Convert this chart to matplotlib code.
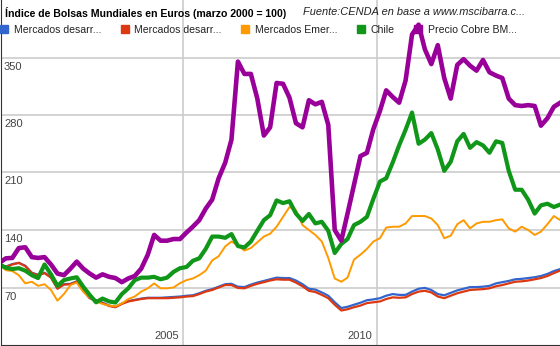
import matplotlib
matplotlib.use('Agg')
import matplotlib.pyplot as plt
import matplotlib.transforms as mtransforms
from matplotlib.lines import Line2D
import pandas as pd

plt.rcParams['font.family'] = ['Liberation Sans', 'DejaVu Sans']

# bimonthly samples (marzo 2000 = 100)
fechas = pd.date_range('2000-04-01', periods=88, freq='2MS')

desarrollados_1 = [
    98, 95.5, 98.5, 100, 96.5, 88, 85.5, 88, 82.5, 69,
    74, 74.5, 77.5, 66.5, 57.5, 54.5, 51.5, 48, 46.5, 50.5,
    53.5, 55, 56.5, 57.5, 57.5, 57.5, 58, 58.5, 59, 60,
    60.5, 63, 66, 68, 71, 74, 74.5, 71, 70.5, 73.5,
    76, 78, 80, 82, 81.5, 81.5, 78.5, 74, 68.5, 67.5,
    64, 60, 52, 45, 46.5, 49, 51.5, 54.5, 55.5, 57,
    60, 62, 61, 61, 65, 68.5, 69.5, 67, 62, 60.5,
    63.5, 66.5, 68.5, 70.5, 70.5, 71, 72, 75, 76.5, 78,
    80, 80.5, 81.5, 82.5, 84, 86.5, 90, 92.4]

desarrollados_2 = [
    98, 95, 98, 100, 96, 87.5, 85, 87.5, 82, 68.5,
    73.5, 74, 77, 66, 57, 54, 51, 47.5, 46, 50,
    53, 54.5, 56, 57, 57, 57, 57, 57.5, 58, 59,
    59.5, 62, 65, 67, 70, 73, 73, 69.5, 69, 72,
    74.5, 76.5, 78.5, 80, 79.5, 79.5, 76, 71.5, 66, 64.5,
    61, 57, 49, 42, 43.5, 46, 48, 51, 52, 53,
    56, 58, 57.5, 58, 62, 65, 66, 64, 59, 57,
    60, 63, 65, 67, 67.5, 68, 69, 71.5, 73, 75,
    77, 77.5, 78.5, 80, 81.5, 84, 87.5, 90.7]

emergentes = [
    97.6, 91, 90, 85, 75, 77, 72, 74, 67, 54,
    62, 73, 76, 65, 58, 53, 50, 48, 47, 50.5,
    56, 59, 65, 69, 75, 69, 69, 70, 75.3, 79,
    81, 85, 90.5, 103, 108, 120, 126, 121, 115, 118,
    125, 132, 135.5, 144, 156, 168, 164, 146, 140, 134,
    126, 106, 81, 77, 82, 104, 110, 117, 126, 130,
    143, 144, 144, 148, 157, 157, 157, 154, 146, 130,
    133, 147, 152, 142, 148, 150, 150, 152, 153, 142,
    138, 144, 140, 134, 138, 147, 157, 152]

chile = [
    98, 94, 92.5, 93.5, 90.5, 85, 81.5, 98, 86, 72,
    79, 81, 82.5, 71, 61, 52, 56.5, 53, 51.7, 62,
    69, 79, 82, 82, 83, 80, 82, 89, 93.5, 95,
    102.5, 105.5, 117, 132, 132, 130.5, 135, 120.5, 118.7, 126,
    139, 152, 158, 176, 172.8, 175, 160, 151, 159.5, 148,
    150, 139, 112, 123, 129, 146, 150, 156, 178, 199,
    203, 222, 243, 262, 283, 245, 250, 258, 238, 212,
    223, 248, 257, 240, 247, 243, 234, 248, 246, 212,
    189, 189, 177, 160, 170, 172, 168, 171]

cobre = [
    100, 105.5, 106, 118, 119, 107, 106, 107, 98, 87,
    85, 93, 101.5, 93, 87, 82, 86, 83, 81.5, 76.5,
    81, 84, 93, 110, 134, 127, 127, 129, 129, 137,
    144, 152, 166, 177, 203, 222, 250, 345, 330, 330,
    300, 255, 265, 319, 318, 301, 270, 265, 298, 293,
    296, 268, 140, 127, 160, 195, 230, 234, 263, 285,
    310, 302, 295, 322, 378, 390, 360, 342, 365, 325,
    300, 341, 348, 340, 334, 347, 332, 328, 325, 300,
    292, 291, 292, 291, 267, 276, 290, 295]

etiquetas = ['Mercados desarr...', 'Mercados desarr...', 'Mercados Emer...',
             'Chile', 'Precio Cobre BM...']
colores = ['#3366CC', '#DC3912', '#FF9900', '#109618', '#990099']
grosores = [1.6, 1.6, 1.4, 3.0, 3.3]
y_ticks = [70, 140, 210, 280, 350]
x_ticks = [pd.Timestamp('2005-01-01'), pd.Timestamp('2010-01-01')]

fig = plt.figure(figsize=(5.6, 3.46), dpi=100)
ax = fig.add_axes([1 / 560, 1 / 346, 559 / 560, 345 / 346])

series = [desarrollados_1, desarrollados_2, emergentes, chile, cobre]
for valores, c, lw in zip(series, colores, grosores):
    ax.plot(fechas, valores, color=c, lw=lw, solid_joinstyle='round')

ax.set_xlim(pd.Timestamp('2000-04-16'), pd.Timestamp('2014-09-28'))
ax.set_ylim(0, 420)

# grid
ax.set_yticks(y_ticks)
ax.set_xticks(x_ticks)
ax.grid(True, color='#cccccc', lw=1.2)
ax.set_axisbelow(True)
ax.tick_params(length=0, labelleft=False, labelbottom=False)
for s in ['top', 'right']:
    ax.spines[s].set_visible(False)
ax.spines['left'].set_color('#333333')
ax.spines['bottom'].set_color('#333333')

# labels drawn inside the plot like the original
tr_y = mtransforms.offset_copy(ax.get_yaxis_transform(), fig=fig, x=3, y=-4, units='dots')
for v in y_ticks:
    ax.text(0, v, str(v), transform=tr_y, ha='left', va='top', fontsize=8, color='#444444')
tr_x = mtransforms.offset_copy(ax.get_xaxis_transform(), fig=fig, x=-4, y=4, units='dots')
for d in x_ticks:
    ax.text(d, 0, str(d.year), transform=tr_x, ha='right', va='bottom', fontsize=8, color='#444444')

# title and source
fig.text(5 / 560, 1 - 7 / 346, 'Índice de Bolsas Mundiales en Euros (marzo 2000 = 100)',
         ha='left', va='top', fontsize=7.6, fontweight='bold', color='#000000')
fig.text(303 / 560, 1 - 7 / 346, 'Fuente:CENDA en base a www.mscibarra.c...',
         ha='left', va='top', fontsize=7.9, style='italic', color='#222222')

handles = [Line2D([], [], marker='s', ls='none', markersize=5.5, color=c) for c in colores]
fig.legend(handles, etiquetas, loc='upper left', bbox_to_anchor=(0, 1 - 25 / 346),
           ncol=5, frameon=False, fontsize=7.6, handlelength=0.8, handletextpad=0.5,
           columnspacing=1.85, borderpad=0, borderaxespad=0, labelcolor='#222222')

fig.savefig('out.png', dpi=100)
